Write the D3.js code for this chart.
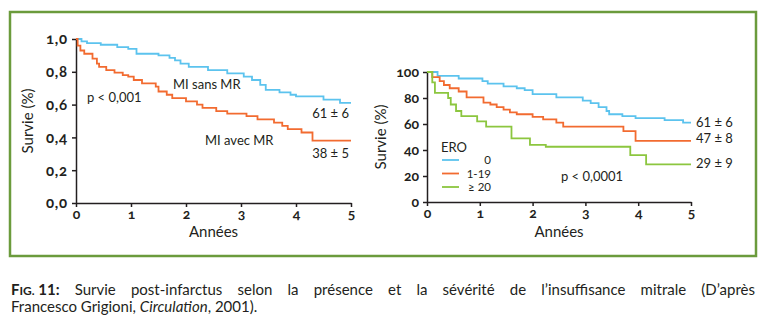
<!DOCTYPE html>
<html>
<head>
<meta charset="utf-8">
<script src="https://cdn.jsdelivr.net/npm/d3@7"></script>
<style>
  body { margin: 0; background: #fff; }
  svg text { font-family: Lato, "Open Sans", sans-serif; fill: #231f20; }
  .axis path, .axis line { stroke: #231f20; stroke-width: 1.5; }
  .axis text { font-size: 14px; font-weight: bold; font-variant-numeric: oldstyle-nums; }
  .axis.wide text { font-size: 15px; letter-spacing: 0.8px; }
</style>
</head>
<body>
<svg id="fig" width="768" height="336"></svg>
<script>
// Kaplan-Meier survival, MI with / without mitral regurgitation (years, fraction)
var years = [0, 1, 2, 3, 4, 5];
var leftTicks = [0, 0.2, 0.4, 0.6, 0.8, 1.0];
var miSansMR = [[0, 1], [0.1, 0.985], [0.2, 0.975], [0.45, 0.965], [0.75, 0.95], [0.95, 0.94],
  [1.1, 0.91], [1.5, 0.9], [1.7, 0.885], [1.8, 0.87], [1.9, 0.85], [2.05, 0.83], [2.4, 0.81],
  [2.75, 0.79], [3.05, 0.77], [3.2, 0.75], [3.35, 0.72], [3.45, 0.69], [3.7, 0.675],
  [3.9, 0.66], [4.0, 0.65], [4.5, 0.63], [4.8, 0.61]];
var miAvecMR = [[0, 1], [0.03, 0.96], [0.08, 0.93], [0.15, 0.91], [0.3, 0.88], [0.38, 0.85],
  [0.42, 0.83], [0.55, 0.81], [0.7, 0.795], [0.85, 0.78], [0.95, 0.77], [1.05, 0.75],
  [1.2, 0.73], [1.45, 0.71], [1.5, 0.68], [1.65, 0.66], [1.75, 0.64], [2.0, 0.62], [2.2, 0.6],
  [2.3, 0.58], [2.55, 0.56], [2.75, 0.545], [3.1, 0.53], [3.3, 0.51], [3.6, 0.49],
  [3.75, 0.47], [3.85, 0.45], [4.1, 0.43], [4.3, 0.38]];

// survival by ERO (%)
var rightTicks = [0, 20, 40, 60, 80, 100];
var ero0 = [[0, 100], [0.2, 97], [0.6, 95], [1.05, 93], [1.15, 91], [1.45, 89], [1.7, 87.5],
  [1.85, 86], [2.0, 83], [2.45, 80.5], [2.95, 78], [3.1, 76], [3.25, 73], [3.4, 70],
  [3.45, 67.5], [3.7, 66], [3.95, 64.5], [4.5, 63], [4.85, 61]];
var ero1to19 = [[0, 100], [0.1, 96], [0.24, 93], [0.32, 90], [0.43, 87.5], [0.6, 85],
  [0.75, 80.5], [1.07, 76.5], [1.2, 75], [1.32, 73], [1.45, 71], [1.57, 69], [1.7, 67.5],
  [2.0, 65.5], [2.2, 63.5], [2.45, 61], [2.58, 58], [3.72, 54.5], [3.95, 47]];
var ero20 = [[0, 100], [0.1, 92], [0.15, 84], [0.4, 80], [0.45, 75], [0.55, 70], [0.65, 66],
  [0.95, 62], [1.12, 58], [1.6, 49], [1.95, 44], [2.25, 42.5], [3.85, 36], [4.15, 29]];

var blue = '#5cc3ee', orange = '#f26b30', green = '#8cc63f';

var svg = d3.select('#fig');

// frame
svg.append('rect').attr('x', 10).attr('y', 12).attr('width', 746).attr('height', 244)
  .attr('fill', 'none').attr('stroke', '#6b9b3c').attr('stroke-width', 2.5);

function stepPath(g, x, y, data, color) {
  var pts = data.concat([[5, data[data.length - 1][1]]]);
  g.append('path').datum(pts)
    .attr('fill', 'none').attr('stroke', color).attr('stroke-width', 1.8)
    .attr('d', d3.line().curve(d3.curveStepAfter).x(d => x(d[0])).y(d => y(d[1])));
}

function label(g, x, y, txt, size, anchor) {
  return g.append('text').attr('x', x).attr('y', y).attr('font-size', size || 13)
    .attr('text-anchor', anchor || 'start').text(txt);
}

function panel(x0, x1, y0, y1, yMax, ticks, fmt, yClass) {
  var g = svg.append('g');
  var x = d3.scaleLinear().domain([0, 5]).range([x0, x1]);
  var y = d3.scaleLinear().domain([0, yMax]).range([y1, y0]);
  g.append('g').attr('class', 'axis').attr('transform', 'translate(0,' + y1 + ')')
    .call(d3.axisBottom(x).tickValues(years).tickFormat(d3.format('d'))
      .tickSize(4).tickSizeOuter(0).tickPadding(2));
  g.append('g').attr('class', 'axis ' + yClass).attr('transform', 'translate(' + x0 + ',0)')
    .call(d3.axisLeft(y).tickValues(ticks).tickFormat(fmt).tickSize(4).tickSizeOuter(0).tickPadding(4));
  g.append('text').attr('x', (x0 + x1) / 2).attr('y', 237).attr('font-size', 15)
    .attr('text-anchor', 'middle').text('Années');
  return { g: g, x: x, y: y };
}

// left panel
var L = panel(76, 351, 39, 203, 1, leftTicks, d => d.toFixed(1).replace('.', ','), 'wide');
L.g.append('text').attr('transform', 'translate(33,121) rotate(-90)').attr('font-size', 15)
  .attr('text-anchor', 'middle').text('Survie (%)');
stepPath(L.g, L.x, L.y, miSansMR, blue);
stepPath(L.g, L.x, L.y, miAvecMR, orange);
label(L.g, 173, 89, 'MI sans MR');
label(L.g, 87, 102, 'p < 0,001');
label(L.g, 349, 118, '61 ± 6', 13, 'end');
label(L.g, 205, 145, 'MI avec MR');
label(L.g, 349, 158, '38 ± 5', 13, 'end');

// right panel
var R = panel(427, 691, 72, 202, 100, rightTicks, d => d, '');
R.g.append('text').attr('transform', 'translate(386,137) rotate(-90)').attr('font-size', 15)
  .attr('text-anchor', 'middle').text('Survie (%)');
stepPath(R.g, R.x, R.y, ero0, blue);
stepPath(R.g, R.x, R.y, ero1to19, orange);
stepPath(R.g, R.x, R.y, ero20, green);
label(R.g, 696, 127, '61 ± 6');
label(R.g, 696, 143, '47 ± 8');
label(R.g, 696, 168, '29 ± 9');
label(R.g, 561, 181, 'p < 0,0001');

// legend
var eroKeys = ['0', '1-19', '≥ 20'];
var eroColors = [blue, orange, green];
label(R.g, 441, 152, 'ERO');
eroKeys.forEach((k, i) => {
  var yy = 160 + i * 13.5;
  R.g.append('line').attr('x1', 442).attr('x2', 459).attr('y1', yy).attr('y2', yy)
    .attr('stroke', eroColors[i]).attr('stroke-width', 1.8);
  label(R.g, 491, yy + 4, k, 11.5, 'end');
});

// caption, first line justified between the margins
var cap = svg.append('g').attr('font-size', 15);
var fig = cap.append('text').attr('x', 11).attr('y', 295).attr('font-weight', 'bold');
fig.append('tspan').text('F');
fig.append('tspan').attr('font-size', 12).text('IG.');
fig.append('tspan').text(' 11:');
var words = ['Survie', 'post-infarctus', 'selon', 'la', 'présence', 'et', 'la', 'sévérité',
  'de', 'l’insuffisance', 'mitrale', '(D’après'];
var startX = 11 + fig.node().getComputedTextLength();
var nodes = words.map(w => cap.append('text').attr('y', 295).attr('font-family', '"Noto Sans", sans-serif')
  .attr('font-size', 15).text(w));
var total = d3.sum(nodes, n => n.node().getComputedTextLength());
var gap = (755 - startX - total) / words.length;
var cx = startX + gap;
nodes.forEach(n => { n.attr('x', cx); cx += n.node().getComputedTextLength() + gap; });
var line2 = cap.append('text').attr('x', 11).attr('y', 312)
  .attr('font-family', '"Noto Sans", sans-serif').attr('font-size', 15);
line2.append('tspan').text('Francesco Grigioni, ');
line2.append('tspan').attr('font-style', 'italic').text('Circulation');
line2.append('tspan').text(', 2001).');
</script>
</body>
</html>
